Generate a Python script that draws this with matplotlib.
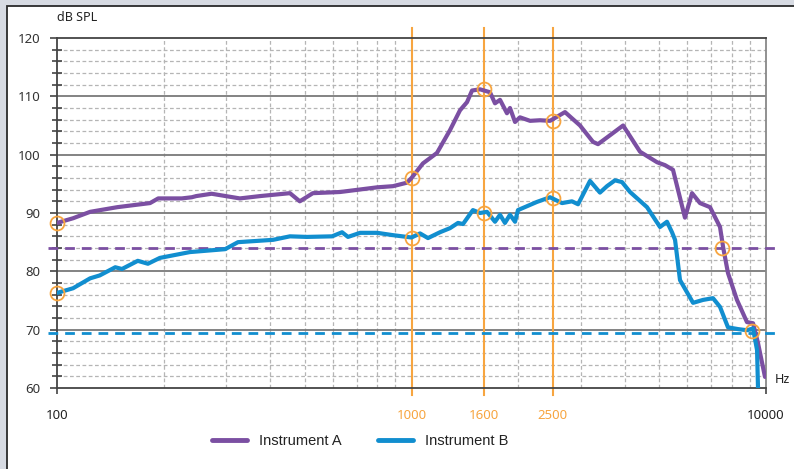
import numpy as np
import matplotlib
matplotlib.use("Agg")
import matplotlib.pyplot as plt
from matplotlib.patches import Rectangle
from matplotlib.ticker import FixedLocator, NullFormatter

plt.rcParams["font.family"] = ["Noto Sans", "DejaVu Sans"]

# data (Hz, dB SPL)
freq_a = [100, 111, 124, 148, 183, 193, 225, 240, 247, 273, 328, 374, 454, 484, 527, 629,
          800, 887, 971, 1000, 1077, 1180, 1284, 1370, 1434, 1482, 1561, 1665, 1720,
          1777, 1859, 1896, 1959, 2023, 2160, 2303, 2459, 2710, 2988, 3250, 3358, 3953,
          4413, 4929, 5190, 5466, 5907, 6185, 6512, 6951, 7418, 7566, 7812, 8281, 8836,
          9193, 9494, 9934]
spl_a = [88.3, 89.1, 90.2, 91.0, 91.7, 92.5, 92.5, 92.7, 92.9, 93.3, 92.5, 92.9, 93.4, 92.0,
         93.4, 93.6, 94.4, 94.6, 95.2, 96.0, 98.5, 100.3, 104.2, 107.6, 109.0, 111.0,
         111.2, 110.7, 108.8, 109.4, 107.1, 108.0, 105.6, 106.4, 105.8, 105.9, 105.8,
         107.3, 105.0, 102.2, 101.8, 105.0, 100.5, 98.7, 98.2, 97.4, 89.2, 93.4, 91.7,
         91.0, 87.6, 84.2, 79.7, 75.1, 71.3, 71.1, 67.7, 61.9]

freq_b = [100, 111, 124, 132, 146, 152.5, 169, 180.5, 195, 237, 298, 324, 407, 454, 507,
          597, 637, 662, 716, 800, 887, 1000, 1057, 1113, 1203, 1284, 1353, 1397, 1490,
          1561, 1633, 1720, 1777, 1835, 1896, 1959, 1997, 2259, 2459, 2658, 2836, 2950,
          3188, 3401, 3560, 3750, 3925, 4135, 4617, 5023, 5256, 5430, 5539, 5720, 6226,
          6642, 7086, 7418, 7812, 8336, 8836, 9193, 9435, 9494]
spl_b = [76.3, 77.1, 78.8, 79.3, 80.7, 80.4, 81.8, 81.3, 82.3, 83.3, 83.8, 85.0, 85.4, 86.0,
         85.9, 86.0, 86.7, 85.9, 86.6, 86.6, 86.2, 85.8, 86.5, 85.7, 86.7, 87.4, 88.3,
         88.1, 90.5, 90.0, 90.2, 88.5, 89.7, 88.3, 89.7, 88.5, 90.5, 91.9, 92.7, 91.7,
         92.0, 91.5, 95.5, 93.5, 94.6, 95.6, 95.3, 93.6, 91.0, 87.6, 88.5, 86.7, 85.4,
         78.5, 74.6, 75.1, 75.4, 73.9, 70.4, 70.1, 69.9, 70.2, 66.5, 60.0]

marker_freqs = [1000, 1600, 2500]
circle_f = [100, 100, 1000, 1000, 1600, 1600, 2500, 2500, 7516, 9129]
circle_db = [88.2, 76.2, 96.0, 85.7, 111.2, 90.0, 105.8, 92.5, 84.0, 69.7]
level_a = 84.0
level_b = 69.5

purple = "#7b4fa2"
blue = "#118ecf"
orange = "#f7a540"

fig = plt.figure(figsize=(7.94, 4.69), dpi=100)
fig.patch.set_facecolor("#d7dbe3")
panel = Rectangle((7 / 794, -0.05), 1.0, 1 - 6 / 469 + 0.05,
                  transform=fig.transFigure, facecolor="white",
                  edgecolor="#2a2a2a", linewidth=1.3, zorder=-10)
fig.add_artist(panel)

ax = fig.add_axes([57 / 794, 1 - 388 / 469, 709 / 794, 350 / 469])
ax.set_zorder(2)
ax.set_facecolor("none")
ax.set_xscale("log")
ax.set_xlim(100, 10000)
ax.set_ylim(60, 120)

# grid
minor_x = [m * d for d in (100, 1000) for m in range(2, 10)]
for f in minor_x:
    ax.axvline(f, color="#b5b5b5", lw=0.9, ls=(0, (3, 2)), zorder=1)
for v in np.arange(62, 120, 2):
    if v % 10:
        ax.axhline(v, color="#b5b5b5", lw=0.9, ls=(0, (3, 2)), zorder=1)
for v in range(70, 120, 10):
    ax.axhline(v, color="#7a7a7a", lw=1.3, zorder=1)

# orange marker lines
for f in marker_freqs:
    ax.plot([f, f], [-0.02, 1.028], color=orange, lw=1.5, zorder=2,
            transform=ax.get_xaxis_transform(), clip_on=False)

# level lines
ax.plot([-0.013, 1.02], [level_a, level_a], color=purple, lw=2, ls=(0, (3.5, 2.5)),
        transform=ax.get_yaxis_transform(), clip_on=False, zorder=3)
ax.plot([-0.013, 1.02], [level_b, level_b], color=blue, lw=2, ls=(0, (3.5, 2.5)),
        transform=ax.get_yaxis_transform(), clip_on=False, zorder=3)

ax.plot(freq_a, spl_a, color=purple, lw=3, solid_joinstyle="round",
        solid_capstyle="round", label="Instrument A", zorder=4)
ax.plot(freq_b, spl_b, color=blue, lw=3, solid_joinstyle="round",
        solid_capstyle="round", label="Instrument B", zorder=4)

ax.plot(circle_f, circle_db, ls="none", marker="o", ms=10, mfc="none",
        mec=orange, mew=1.3, zorder=5, clip_on=False)

# axes styling
for s in ("left", "bottom", "top"):
    ax.spines[s].set_color("#444444")
    ax.spines[s].set_linewidth(1.3)
ax.spines["right"].set_color("#888888")
ax.spines["right"].set_linewidth(1.3)

ax.yaxis.set_major_locator(FixedLocator(range(60, 121, 10)))
ax.yaxis.set_minor_locator(FixedLocator(range(60, 121, 2)))
ax.tick_params(axis="y", which="major", direction="out", length=5, width=1.2,
               color="#444444", labelsize=9.5, labelcolor="#333333", pad=7)
ax.tick_params(axis="y", which="minor", direction="inout", length=7, width=1.2,
               color="#444444")

xt = [100, 1000, 1600, 2500, 10000]
ax.xaxis.set_major_locator(FixedLocator(xt))
ax.xaxis.set_minor_locator(FixedLocator([]))
ax.xaxis.set_minor_formatter(NullFormatter())
ax.set_xticklabels([str(t) for t in xt])
ax.tick_params(axis="x", which="major", direction="out", length=4, width=1.2,
               color="#444444", labelsize=9.5, labelcolor="#222222", pad=11)
for lbl, t in zip(ax.get_xticklabels(), xt):
    if t in marker_freqs:
        lbl.set_color(orange)
for tl, t in zip(ax.xaxis.get_major_ticks(), xt):
    if t in marker_freqs:
        tl.tick1line.set_visible(False)

ax.text(0, 1.04, "dB SPL", transform=ax.transAxes, fontsize=9,
        color="#222222", ha="left", va="bottom")
ax.text(1.012, 0.005, "Hz", transform=ax.transAxes, fontsize=9,
        color="#222222", ha="left", va="bottom")

leg = fig.legend(loc="center", bbox_to_anchor=(360 / 794, 1 - 441 / 469), ncol=2,
                 frameon=False, handlelength=2.4, columnspacing=2.5,
                 labelcolor="#222222", prop={"family": "Liberation Sans", "size": 10.5})
for h in leg.get_lines():
    h.set_linewidth(3.5)

fig.savefig("out.png", dpi=100, facecolor=fig.get_facecolor())
